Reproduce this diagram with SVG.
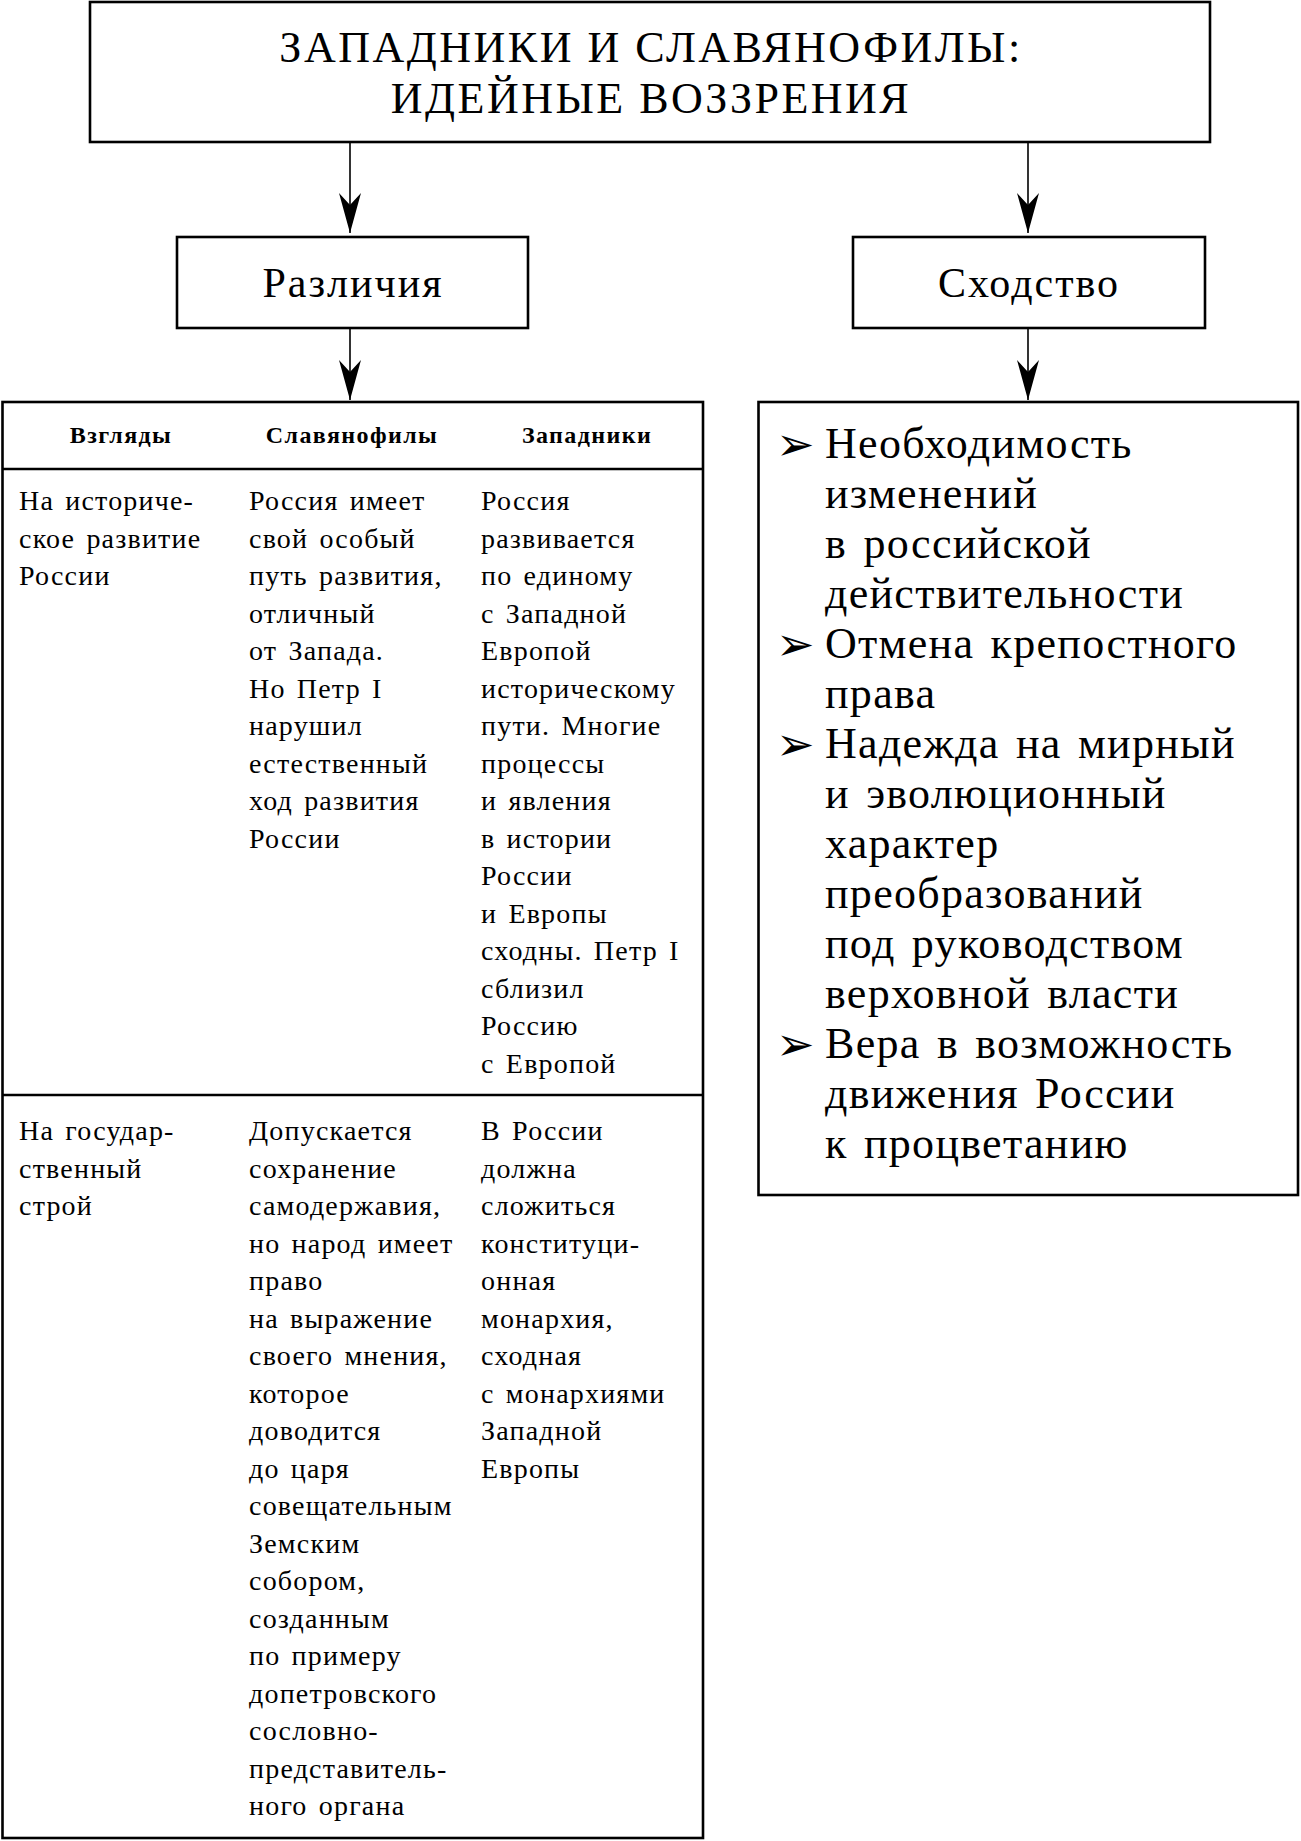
<svg xmlns="http://www.w3.org/2000/svg" width="1301" height="1841" viewBox="0 0 1301 1841">
<defs>
<marker id="ah" markerUnits="userSpaceOnUse" markerWidth="40" markerHeight="22" viewBox="0 0 40 22" refX="40" refY="11" orient="auto">
<path d="M0,0 L40,11 L0,22 L12,11 Z" fill="#000"/>
</marker>
</defs>
<style>
.box{fill:#fff;stroke:#000;stroke-width:2.6}
.conn{stroke:#000;stroke-width:1.6;fill:none}
.title{font-family:"Liberation Serif","Times New Roman",serif;font-size:44px;letter-spacing:2.5px;text-anchor:middle;fill:#000}
.lbl{font-family:"Liberation Serif","Times New Roman",serif;font-size:42px;letter-spacing:2px;text-anchor:middle;fill:#000}
.th{font-family:"Liberation Serif","Times New Roman",serif;font-size:24px;font-weight:bold;letter-spacing:1.4px;text-anchor:middle;fill:#000}
.td{font-family:"Liberation Serif","Times New Roman",serif;font-size:28px;letter-spacing:1.2px;word-spacing:3px;fill:#000}
.li{font-family:"Liberation Serif","Times New Roman",serif;font-size:44px;letter-spacing:1.3px;word-spacing:4px;fill:#000}
.bul{font-family:"DejaVu Sans",sans-serif;font-size:46px;fill:#000}
</style>
<rect width="1301" height="1841" fill="#fff"/>

<g id="title">
<rect class="box" x="90" y="2" width="1120" height="140"/>
<text class="title" x="651" y="62">ЗАПАДНИКИ И СЛАВЯНОФИЛЫ:</text>
<text class="title" x="651" y="113">ИДЕЙНЫЕ ВОЗЗРЕНИЯ</text>
</g>

<g id="differences">
<rect class="box" x="177" y="237" width="351" height="91"/>
<text class="lbl" x="353" y="297">Различия</text>
</g>

<g id="similarity">
<rect class="box" x="853" y="237" width="352" height="91"/>
<text class="lbl" x="1029" y="297">Сходство</text>
</g>

<g id="table">
<rect class="box" x="2.5" y="402" width="700.5" height="1436"/>
<line class="box" x1="2.5" y1="469" x2="703" y2="469"/>
<line class="box" x1="2.5" y1="1095" x2="703" y2="1095"/>
<text class="th" x="121" y="443">Взгляды</text>
<text class="th" x="352" y="443">Славянофилы</text>
<text class="th" x="587" y="443">Западники</text>
<text class="td">
<tspan x="19" y="510">На историче-</tspan>
<tspan x="19" y="547.5">ское развитие</tspan>
<tspan x="19" y="585">России</tspan>
</text>
<text class="td">
<tspan x="249" y="510">Россия имеет</tspan>
<tspan x="249" y="547.5">свой особый</tspan>
<tspan x="249" y="585">путь развития,</tspan>
<tspan x="249" y="622.5">отличный</tspan>
<tspan x="249" y="660">от Запада.</tspan>
<tspan x="249" y="697.5">Но Петр I</tspan>
<tspan x="249" y="735">нарушил</tspan>
<tspan x="249" y="772.5">естественный</tspan>
<tspan x="249" y="810">ход развития</tspan>
<tspan x="249" y="847.5">России</tspan>
</text>
<text class="td">
<tspan x="481" y="510">Россия</tspan>
<tspan x="481" y="547.5">развивается</tspan>
<tspan x="481" y="585">по единому</tspan>
<tspan x="481" y="622.5">с Западной</tspan>
<tspan x="481" y="660">Европой</tspan>
<tspan x="481" y="697.5">историческому</tspan>
<tspan x="481" y="735">пути. Многие</tspan>
<tspan x="481" y="772.5">процессы</tspan>
<tspan x="481" y="810">и явления</tspan>
<tspan x="481" y="847.5">в истории</tspan>
<tspan x="481" y="885">России</tspan>
<tspan x="481" y="922.5">и Европы</tspan>
<tspan x="481" y="960">сходны. Петр I</tspan>
<tspan x="481" y="997.5">сблизил</tspan>
<tspan x="481" y="1035">Россию</tspan>
<tspan x="481" y="1072.5">с Европой</tspan>
</text>
<text class="td">
<tspan x="19" y="1140">На государ-</tspan>
<tspan x="19" y="1177.5">ственный</tspan>
<tspan x="19" y="1215">строй</tspan>
</text>
<text class="td">
<tspan x="249" y="1140">Допускается</tspan>
<tspan x="249" y="1177.5">сохранение</tspan>
<tspan x="249" y="1215">самодержавия,</tspan>
<tspan x="249" y="1252.5">но народ имеет</tspan>
<tspan x="249" y="1290">право</tspan>
<tspan x="249" y="1327.5">на выражение</tspan>
<tspan x="249" y="1365">своего мнения,</tspan>
<tspan x="249" y="1402.5">которое</tspan>
<tspan x="249" y="1440">доводится</tspan>
<tspan x="249" y="1477.5">до царя</tspan>
<tspan x="249" y="1515">совещательным</tspan>
<tspan x="249" y="1552.5">Земским</tspan>
<tspan x="249" y="1590">собором,</tspan>
<tspan x="249" y="1627.5">созданным</tspan>
<tspan x="249" y="1665">по примеру</tspan>
<tspan x="249" y="1702.5">допетровского</tspan>
<tspan x="249" y="1740">сословно-</tspan>
<tspan x="249" y="1777.5">представитель-</tspan>
<tspan x="249" y="1815">ного органа</tspan>
</text>
<text class="td">
<tspan x="481" y="1140">В России</tspan>
<tspan x="481" y="1177.5">должна</tspan>
<tspan x="481" y="1215">сложиться</tspan>
<tspan x="481" y="1252.5">конституци-</tspan>
<tspan x="481" y="1290">онная</tspan>
<tspan x="481" y="1327.5">монархия,</tspan>
<tspan x="481" y="1365">сходная</tspan>
<tspan x="481" y="1402.5">с монархиями</tspan>
<tspan x="481" y="1440">Западной</tspan>
<tspan x="481" y="1477.5">Европы</tspan>
</text>
</g>

<g id="similarities-list">
<rect class="box" x="758.5" y="402" width="539.5" height="793"/>
<text class="bul" x="776" y="460">➢</text>
<text class="bul" x="776" y="660">➢</text>
<text class="bul" x="776" y="760">➢</text>
<text class="bul" x="776" y="1060">➢</text>
<text class="li">
<tspan x="825" y="458">Необходимость</tspan>
<tspan x="825" y="508">изменений</tspan>
<tspan x="825" y="558">в российской</tspan>
<tspan x="825" y="608">действительности</tspan>
<tspan x="825" y="658">Отмена крепостного</tspan>
<tspan x="825" y="708">права</tspan>
<tspan x="825" y="758">Надежда на мирный</tspan>
<tspan x="825" y="808">и эволюционный</tspan>
<tspan x="825" y="858">характер</tspan>
<tspan x="825" y="908">преобразований</tspan>
<tspan x="825" y="958">под руководством</tspan>
<tspan x="825" y="1008">верховной власти</tspan>
<tspan x="825" y="1058">Вера в возможность</tspan>
<tspan x="825" y="1108">движения России</tspan>
<tspan x="825" y="1158">к процветанию</tspan>
</text>
</g>

<g id="connectors">
<line class="conn" x1="350" y1="143" x2="350" y2="233" marker-end="url(#ah)"/>
<line class="conn" x1="1028" y1="143" x2="1028" y2="233" marker-end="url(#ah)"/>
<line class="conn" x1="350" y1="329" x2="350" y2="400" marker-end="url(#ah)"/>
<line class="conn" x1="1028" y1="329" x2="1028" y2="400" marker-end="url(#ah)"/>
</g>
</svg>
